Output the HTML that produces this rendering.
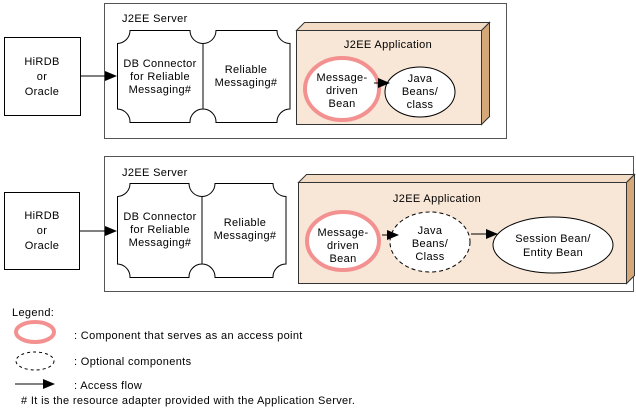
<!DOCTYPE html>
<html><head><meta charset="utf-8"><style>
html,body{margin:0;padding:0;background:#fff;}
svg{display:block;}
text{font-family:"Liberation Sans","Noto Sans CJK JP",sans-serif;font-size:11px;fill:#000;letter-spacing:0.35px;}
</style></head><body>
<svg width="636" height="411" viewBox="0 0 636 411" xmlns="http://www.w3.org/2000/svg">
<defs>
<marker id="ah" markerWidth="12" markerHeight="10" refX="11" refY="5" orient="auto" markerUnits="userSpaceOnUse">
<path d="M0,0 L12,5 L0,10 z" fill="#000"/>
</marker>
</defs>
<g stroke="#000" stroke-width="1" fill="none">
<rect x="4.5" y="37.5" width="76" height="78" fill="#fff"/>
<rect x="104.5" y="3.5" width="402" height="135" stroke="#555"/>
<line x1="80" y1="76" x2="116" y2="76" marker-end="url(#ah)"/>
<path d="M130,30.5 H190 A13,13 0 0 0 203,43.5 V109 A13,13 0 0 0 190,122.5 H130 A13,13 0 0 0 117.5,109 V43.5 A13,13 0 0 0 130,30.5 Z" fill="#fff"/>
<path d="M216,30.5 H277 A13,13 0 0 0 290,43.5 V109 A13,13 0 0 0 277,122.5 H216 A13,13 0 0 0 203,109 V43.5 A13,13 0 0 0 216,30.5 Z" fill="#fff"/>
<path d="M296.5,30.5 L304.5,22.5 H489.5 L481.5,30.5 Z" fill="#f3dcc6" stroke="#333"/>
<path d="M481.5,30.5 L489.5,22.5 V116.5 L481.5,124.5 Z" fill="#d4a878" stroke="#333"/>
<rect x="296.5" y="30.5" width="185" height="94" fill="#f8e6d6" stroke="#333"/>
<ellipse cx="342" cy="89" rx="37" ry="31" fill="#fff" stroke="#f39191" stroke-width="4"/>
<ellipse cx="420" cy="92" rx="35" ry="25" fill="#fff"/>
<line x1="374" y1="83" x2="389" y2="83" marker-end="url(#ah)"/>
<rect x="4.5" y="192.5" width="75" height="77" fill="#fff"/>
<rect x="104.5" y="156.5" width="529" height="135" stroke="#555"/>
<line x1="79" y1="231" x2="116" y2="231" marker-end="url(#ah)"/>
<path d="M130,183.5 H189 A13,13 0 0 0 202,196.5 V264 A13,13 0 0 0 189,277.5 H130 A13,13 0 0 0 117.5,264 V196.5 A13,13 0 0 0 130,183.5 Z" fill="#fff"/>
<path d="M215,183.5 H273 A13,13 0 0 0 286,196.5 V264 A13,13 0 0 0 273,277.5 H215 A13,13 0 0 0 202,264 V196.5 A13,13 0 0 0 215,183.5 Z" fill="#fff"/>
<path d="M298.5,182.5 L306.5,174.5 H634.5 L626.5,182.5 Z" fill="#f3dcc6" stroke="#333"/>
<path d="M626.5,182.5 L634.5,174.5 V275.5 L626.5,283.5 Z" fill="#d4a878" stroke="#333"/>
<rect x="298.5" y="182.5" width="328" height="101" fill="#f8e6d6" stroke="#333"/>
<ellipse cx="343" cy="241" rx="36" ry="29" fill="#fff" stroke="#f39191" stroke-width="4"/>
<ellipse cx="430" cy="242" rx="40" ry="30" fill="#fff" stroke-dasharray="4,3"/>
<ellipse cx="553" cy="245" rx="60" ry="28" fill="#fff"/>
<line x1="382" y1="235" x2="398" y2="235" marker-end="url(#ah)"/>
<line x1="471" y1="234" x2="497" y2="234" marker-end="url(#ah)"/>
<ellipse cx="35" cy="332" rx="19" ry="10" stroke="#f39191" stroke-width="4" fill="#fff"/>
<ellipse cx="35" cy="361" rx="19" ry="9" stroke-dasharray="3,3"/>
<line x1="15" y1="384" x2="54" y2="384" marker-end="url(#ah)"/>
</g>
<g text-anchor="middle">
<text x="42" y="65">HiRDB</text><text x="42" y="80">or</text><text x="42" y="95">Oracle</text>
<text x="160" y="67">DB Connector</text><text x="160" y="80">for Reliable</text><text x="160" y="93">Messaging#</text>
<text x="246" y="73">Reliable</text><text x="246" y="86">Messaging#</text>
<text x="388" y="48">J2EE  Application</text>
<text x="342" y="81">Message-</text><text x="342" y="94">driven</text><text x="342" y="107">Bean</text>
<text x="420" y="82">Java</text><text x="420" y="95">Beans/</text><text x="420" y="108">class</text>
<text x="42" y="219">HiRDB</text><text x="42" y="234">or</text><text x="42" y="249">Oracle</text>
<text x="160" y="220">DB Connector</text><text x="160" y="233">for Reliable</text><text x="160" y="246">Messaging#</text>
<text x="245" y="226">Reliable</text><text x="245" y="239">Messaging#</text>
<text x="437" y="202">J2EE  Application</text>
<text x="343" y="236">Message-</text><text x="343" y="249">driven</text><text x="343" y="262">Bean</text>
<text x="430" y="234">Java</text><text x="430" y="247">Beans/</text><text x="430" y="260">Class</text>
<text x="553" y="242">Session Bean/</text><text x="553" y="256">Entity Bean</text>
</g>
<text x="122" y="22">J2EE  Server</text>
<text x="122" y="176">J2EE  Server</text>
<text x="12" y="316">Legend:</text>
<text x="74" y="339">: Component that serves as an access point</text>
<text x="74" y="365">: Optional components</text>
<text x="74" y="389">: Access flow</text>
<text x="21" y="404"># It is the resource adapter provided with the Application Server.</text>
</svg>
</body></html>
